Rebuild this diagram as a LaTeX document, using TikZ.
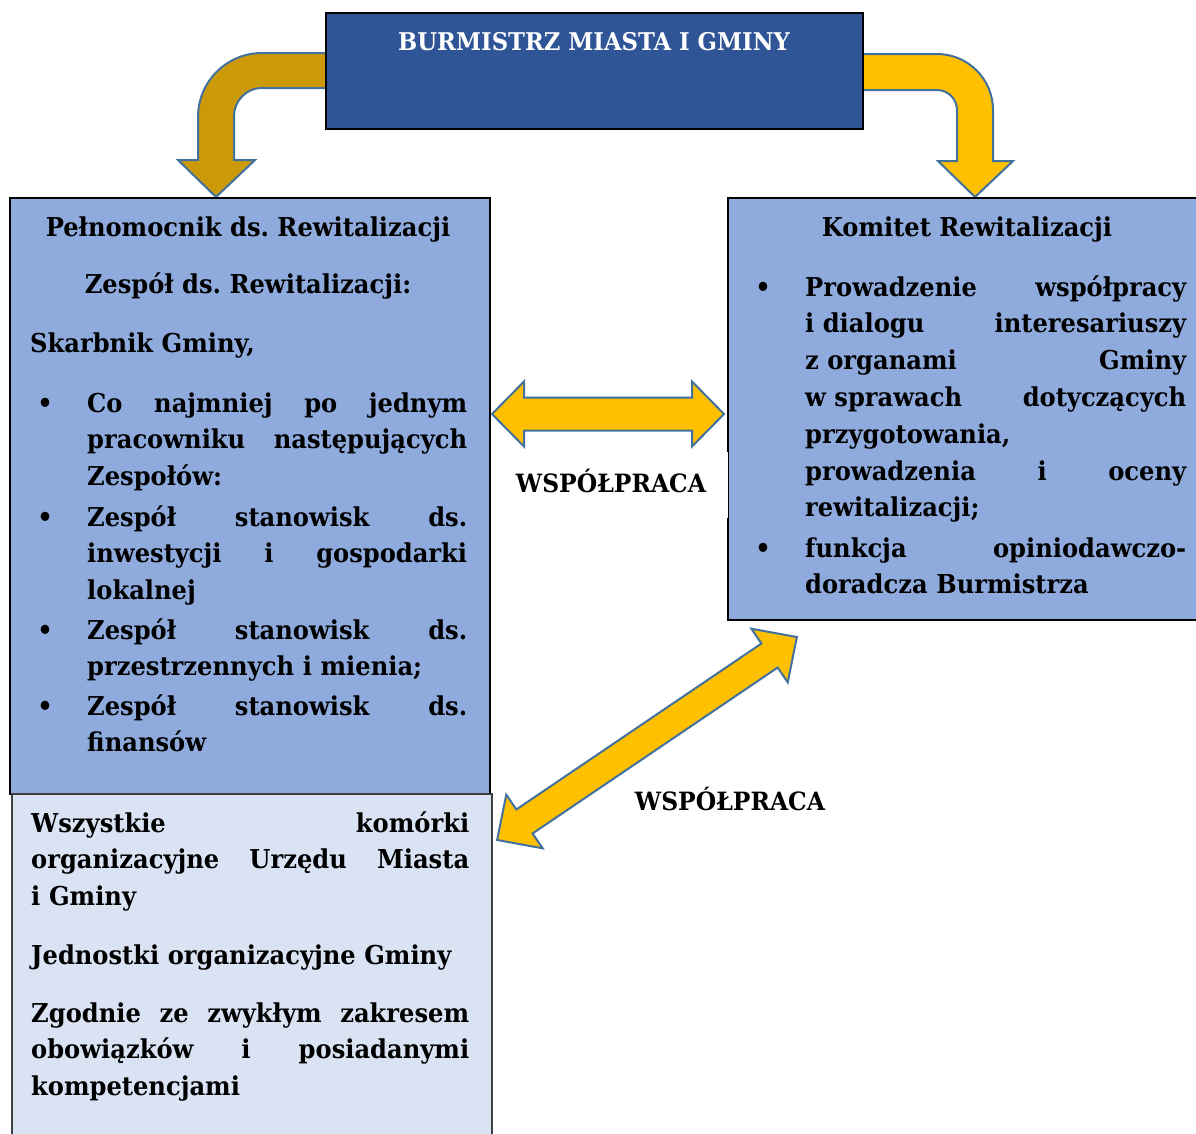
\documentclass[tikz,border=0pt]{standalone}
\usepackage{fontspec}
\setmainfont{DejaVu Serif}[FakeStretch=0.93]
\frenchspacing
\definecolor{darkblue}{RGB}{47,85,151}
\definecolor{midblue}{RGB}{143,170,220}
\definecolor{paleblue}{RGB}{218,227,243}
\definecolor{gold}{RGB}{255,192,0}
\definecolor{darkgold}{RGB}{204,154,8}
\definecolor{arrowline}{RGB}{65,113,156}
\definecolor{boxgray}{RGB}{64,64,64}
\newcommand\bodyfont{\bfseries\fontsize{26}{36.8}\selectfont\frenchspacing}
\newcommand\labfont{\bfseries\fontsize{25.2}{30}\selectfont\frenchspacing}
\newcommand\jw{100pt}
\newcommand\jl[1]{\makebox[\jw][s]{\spaceskip=0pt\xspaceskip=0pt\relax #1}}
\tikzset{
  box/.style={draw=black, line width=2, anchor=north west, inner sep=0},
  txt/.style={inner sep=0, anchor=base west, font=\bodyfont, align=left},
  ctxt/.style={inner sep=0, anchor=base, font=\bodyfont},
  labtxt/.style={inner sep=0, anchor=base, font=\labfont},
  bul/.style={inner sep=0, anchor=base, font=\bodyfont},
  jwidth/.style={text width=#1, execute at begin node={\def\jw{#1pt}}},
  bentarrow/.style={draw=arrowline, line width=2, line join=miter},
  dblarrow/.style={fill=gold, draw=arrowline, line width=2, line join=miter},
}
\begin{document}
\begin{tikzpicture}[x=1pt,y=-1pt]
\useasboundingbox (0,0) rectangle (1196,1133);

% bent arrows from the mayor
\draw[bentarrow, fill=darkgold] (330,53) -- (262,53) .. controls (226.6,53) and (198,81.6) .. (198,117)
  -- (198,160) -- (178,160) -- (216,197) -- (255,160) -- (234,160) -- (234,116)
  .. controls (234,101.6) and (245.6,88) .. (262,88) -- (330,88) -- cycle;
\draw[bentarrow, fill=gold] (856,54) -- (937,54) .. controls (967.9,54) and (993,79.1) .. (993,110)
  -- (993,161) -- (1013,161) -- (975,197) -- (938,161) -- (957,161) -- (957,110)
  .. controls (957,99) and (948,90) .. (937,90) -- (856,90) -- cycle;

% boxes
\node[box, fill=darkblue, minimum width=537, minimum height=116] (burm) at (325,12) {};
\node[box, fill=midblue, minimum width=480, minimum height=596] (pel) at (9,197) {};
\node[box, draw=boxgray, fill=paleblue, minimum width=480, minimum height=360] (all) at (11,793) {};
\node[box, fill=midblue, minimum width=480, minimum height=422] (kom) at (727,197) {};

% title
\node[inner sep=0, anchor=base, font=\bfseries\fontsize{24.4}{30}\selectfont, text=white] (burmt) at (594,50) {BURMISTRZ MIASTA I GMINY};

% horizontal double arrow
\begin{scope}[shift={(608,414)}]
\draw[dblarrow] (-116,0) -- (-84,-32.5) -- (-84,-16.5) -- (84,-16.5) -- (84,-32.5) -- (116,0)
  -- (84,32.5) -- (84,16.5) -- (-84,16.5) -- (-84,32.5) -- cycle;
\end{scope}
% diagonal double arrow
\begin{scope}[shift={(647,738.5)}, rotate=34.1]
\draw[dblarrow] (-181,0) -- (-148,-32.4) -- (-148,-14.5) -- (148,-14.5) -- (148,-32.4) -- (181,0)
  -- (148,32.4) -- (148,14.5) -- (-148,14.5) -- (-148,32.4) -- cycle;
\end{scope}

% labels
\node[fill=white, inner sep=0, minimum width=233, minimum height=66, anchor=north west] (lab1bg) at (495,452) {};
\node[labtxt] (lab1) at (611,492) {WSPÓŁPRACA};
\node[labtxt] (lab2) at (730,810) {WSPÓŁPRACA};

% left box text
\node[ctxt] (p1) at (248,236) {Pełnomocnik ds. Rewitalizacji};
\node[ctxt] (p2) at (248,293) {Zespół ds. Rewitalizacji:};
\node[txt] (p3) at (30,352) {Skarbnik Gminy,};
\node[bul] (pb1) at (45,412) {\textbullet};
\node[txt, jwidth=380] (pi1) at (87,412) {\jl{Co najmniej po jednym}\\\jl{pracowniku następujących}\\Zespołów:};
\node[bul] (pb2) at (45,526) {\textbullet};
\node[txt, jwidth=380] (pi2) at (87,526) {\jl{Zespół stanowisk ds.}\\\jl{inwestycji i gospodarki}\\lokalnej};
\node[bul] (pb3) at (45,639) {\textbullet};
\node[txt, jwidth=380] (pi3) at (87,639) {\jl{Zespół stanowisk ds.}\\przestrzennych i mienia;};
\node[bul] (pb4) at (45,715) {\textbullet};
\node[txt, jwidth=380] (pi4) at (87,715) {\jl{Zespół stanowisk ds.}\\finansów};

% right box text
\node[ctxt] (k1) at (967,236) {Komitet Rewitalizacji};
\node[bul] (kb1) at (763,296) {\textbullet};
\node[txt, jwidth=381] (ki1) at (805,296) {\jl{Prowadzenie współpracy}\\\jl{\mbox{i dialogu} interesariuszy}\\\jl{\mbox{z organami} Gminy}\\\jl{\mbox{w sprawach} dotyczących}\\przygotowania,\\\jl{prowadzenia i oceny}\\rewitalizacji;};
\node[bul] (kb2) at (763,557) {\textbullet};
\node[txt, jwidth=381] (ki2) at (805,557) {\jl{funkcja opiniodawczo-}\\doradcza Burmistrza};

% bottom box text
\node[txt, jwidth=438] (a1) at (31,832) {\jl{Wszystkie komórki}\\\jl{organizacyjne Urzędu Miasta}\\i Gminy};
\node[txt] (a2) at (31,964) {Jednostki organizacyjne Gminy};
\node[txt, jwidth=438] (a3) at (31,1022) {\jl{Zgodnie ze zwykłym zakresem}\\\jl{obowiązków i posiadanymi}\\kompetencjami};
\end{tikzpicture}
\end{document}
